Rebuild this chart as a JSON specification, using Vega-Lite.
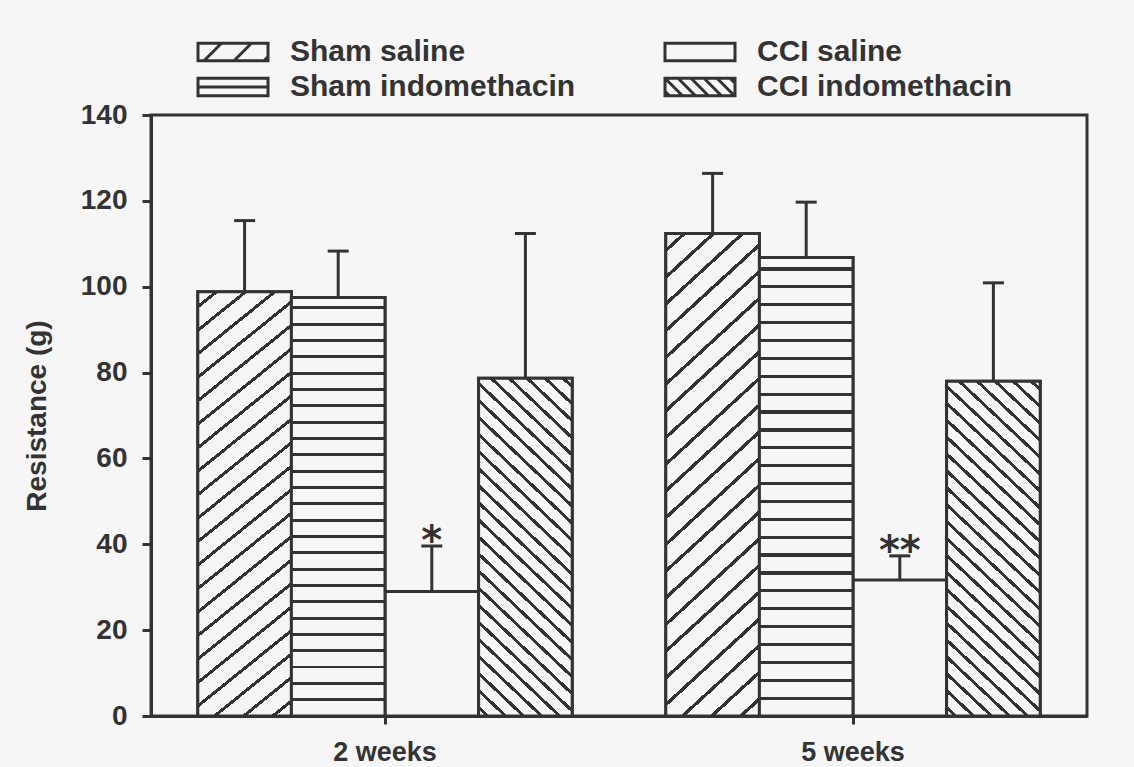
{
  "$schema": "https://vega.github.io/schema/vega-lite/v6.json",
  "width": 936,
  "height": 601,
  "autosize": {"type": "none"},
  "padding": {"left": 151, "top": 115, "right": 47, "bottom": 51},
  "background": "#f6f6f6",
  "config": {
    "view": {"stroke": "#333333", "strokeWidth": 3, "fill": "#f6f6f6"},
    "axis": {
      "domainColor": "#333333", "domainWidth": 3, "tickColor": "#333333", "tickWidth": 3,
      "grid": false, "labelColor": "#333333", "titleColor": "#333333",
      "labelFont": "Liberation Sans", "titleFont": "Liberation Sans",
      "labelFontWeight": "bold", "titleFontWeight": "bold"
    }
  },
  "data": {
    "values": [
      {"week": "2 weeks", "group": "Sham saline", "mean": 98.8, "upper": 115.4, "sig": ""},
      {"week": "2 weeks", "group": "Sham indomethacin", "mean": 97.5, "upper": 108.3, "sig": ""},
      {"week": "2 weeks", "group": "CCI saline", "mean": 29.0, "upper": 39.6, "sig": "*"},
      {"week": "2 weeks", "group": "CCI indomethacin", "mean": 78.7, "upper": 112.4, "sig": ""},
      {"week": "5 weeks", "group": "Sham saline", "mean": 112.4, "upper": 126.4, "sig": ""},
      {"week": "5 weeks", "group": "Sham indomethacin", "mean": 106.8, "upper": 119.7, "sig": ""},
      {"week": "5 weeks", "group": "CCI saline", "mean": 31.7, "upper": 37.3, "sig": "**"},
      {"week": "5 weeks", "group": "CCI indomethacin", "mean": 78.0, "upper": 100.9, "sig": ""}
    ]
  },
  "encoding": {
    "x": {
      "field": "week", "type": "nominal",
      "scale": {"paddingInner": 0.2, "paddingOuter": 0.1},
      "axis": {"title": null, "labelAngle": 0, "tickSize": 8, "labelPadding": 15, "labelFontSize": 27}
    },
    "xOffset": {
      "field": "group", "type": "nominal",
      "scale": {"domain": ["Sham saline", "Sham indomethacin", "CCI saline", "CCI indomethacin"], "paddingInner": 0, "paddingOuter": 0}
    },
    "y": {
      "field": "mean", "type": "quantitative",
      "scale": {"domain": [0, 140], "nice": false},
      "axis": {"title": "Resistance (g)", "values": [0, 20, 40, 60, 80, 100, 120, 140], "tickSize": 9, "labelPadding": 15, "labelFontSize": 28, "titleFontSize": 28, "titlePadding": 29}
    }
  },
  "layer": [
    {
      "mark": {"type": "point", "filled": false, "color": "#333333", "strokeWidth": 3, "size": 400, "opacity": 1, "yOffset": 40},
      "encoding": {
        "shape": {
          "field": "group", "type": "nominal",
          "scale": {
            "domain": ["Sham saline", "Sham indomethacin", "CCI saline", "CCI indomethacin"],
            "range": [
              "M-3.5,-0.875H3.5V0.875H-3.5Z M-2.9,0.875L-1.15,-0.875 M0.1,0.875L1.85,-0.875 M3.1,0.875L3.5,0.475",
              "M-3.5,-0.875H3.5V0.875H-3.5Z M-3.5,0H3.5",
              "M-3.5,-0.875H3.5V0.875H-3.5Z",
              "M-3.5,-0.875H3.5V0.875H-3.5Z M-3.5,-0.875L-1.75,0.875 M-2.2,-0.875L-0.45,0.875 M-0.9,-0.875L0.85,0.875 M0.4,-0.875L2.15,0.875 M1.7,-0.875L3.45,0.875 M3,-0.875L3.5,-0.375 M-3.5,0.425L-3.05,0.875"
            ]
          },
          "legend": {
            "title": null, "orient": "none", "legendX": 47, "legendY": -78, "columns": 2,
            "padding": 0, "columnPadding": 83, "rowPadding": 5,
            "symbolSize": 400, "symbolOffset": 20,
            "symbolStrokeColor": "#333333", "symbolStrokeWidth": 3, "symbolFillColor": "transparent",
            "labelFont": "Liberation Sans", "labelFontWeight": "bold", "labelFontSize": 30,
            "labelColor": "#333333", "labelOffset": 42, "labelLimit": 0
          }
        }
      }
    },
    {
      "mark": {"type": "bar", "stroke": "#333333", "strokeWidth": 3, "fill": "#f6f6f6"}
    },
    {
      "transform": [{"filter": "datum.group === 'Sham saline'"}],
      "mark": {"type": "bar", "stroke": "#333333", "strokeWidth": 3,
        "fill": {"gradient": "linear", "x1": 0, "y1": 0, "x2": 0.2032, "y2": 1.1418, "stops": [
          {"offset": 0.026, "color": "#f6f6f6"}, {"offset": 0.026, "color": "#333333"}, {"offset": 0.034, "color": "#333333"}, {"offset": 0.034, "color": "#f6f6f6"},
          {"offset": 0.073, "color": "#f6f6f6"}, {"offset": 0.073, "color": "#333333"}, {"offset": 0.081, "color": "#333333"}, {"offset": 0.081, "color": "#f6f6f6"},
          {"offset": 0.120, "color": "#f6f6f6"}, {"offset": 0.120, "color": "#333333"}, {"offset": 0.128, "color": "#333333"}, {"offset": 0.128, "color": "#f6f6f6"},
          {"offset": 0.167, "color": "#f6f6f6"}, {"offset": 0.167, "color": "#333333"}, {"offset": 0.175, "color": "#333333"}, {"offset": 0.175, "color": "#f6f6f6"},
          {"offset": 0.214, "color": "#f6f6f6"}, {"offset": 0.214, "color": "#333333"}, {"offset": 0.222, "color": "#333333"}, {"offset": 0.222, "color": "#f6f6f6"},
          {"offset": 0.261, "color": "#f6f6f6"}, {"offset": 0.261, "color": "#333333"}, {"offset": 0.269, "color": "#333333"}, {"offset": 0.269, "color": "#f6f6f6"},
          {"offset": 0.308, "color": "#f6f6f6"}, {"offset": 0.308, "color": "#333333"}, {"offset": 0.316, "color": "#333333"}, {"offset": 0.316, "color": "#f6f6f6"},
          {"offset": 0.355, "color": "#f6f6f6"}, {"offset": 0.355, "color": "#333333"}, {"offset": 0.363, "color": "#333333"}, {"offset": 0.363, "color": "#f6f6f6"},
          {"offset": 0.402, "color": "#f6f6f6"}, {"offset": 0.402, "color": "#333333"}, {"offset": 0.410, "color": "#333333"}, {"offset": 0.410, "color": "#f6f6f6"},
          {"offset": 0.449, "color": "#f6f6f6"}, {"offset": 0.449, "color": "#333333"}, {"offset": 0.457, "color": "#333333"}, {"offset": 0.457, "color": "#f6f6f6"},
          {"offset": 0.496, "color": "#f6f6f6"}, {"offset": 0.496, "color": "#333333"}, {"offset": 0.504, "color": "#333333"}, {"offset": 0.504, "color": "#f6f6f6"},
          {"offset": 0.543, "color": "#f6f6f6"}, {"offset": 0.543, "color": "#333333"}, {"offset": 0.551, "color": "#333333"}, {"offset": 0.551, "color": "#f6f6f6"},
          {"offset": 0.590, "color": "#f6f6f6"}, {"offset": 0.590, "color": "#333333"}, {"offset": 0.598, "color": "#333333"}, {"offset": 0.598, "color": "#f6f6f6"},
          {"offset": 0.637, "color": "#f6f6f6"}, {"offset": 0.637, "color": "#333333"}, {"offset": 0.645, "color": "#333333"}, {"offset": 0.645, "color": "#f6f6f6"},
          {"offset": 0.684, "color": "#f6f6f6"}, {"offset": 0.684, "color": "#333333"}, {"offset": 0.692, "color": "#333333"}, {"offset": 0.692, "color": "#f6f6f6"},
          {"offset": 0.731, "color": "#f6f6f6"}, {"offset": 0.731, "color": "#333333"}, {"offset": 0.739, "color": "#333333"}, {"offset": 0.739, "color": "#f6f6f6"},
          {"offset": 0.778, "color": "#f6f6f6"}, {"offset": 0.778, "color": "#333333"}, {"offset": 0.786, "color": "#333333"}, {"offset": 0.786, "color": "#f6f6f6"},
          {"offset": 0.825, "color": "#f6f6f6"}, {"offset": 0.825, "color": "#333333"}, {"offset": 0.833, "color": "#333333"}, {"offset": 0.833, "color": "#f6f6f6"},
          {"offset": 0.872, "color": "#f6f6f6"}, {"offset": 0.872, "color": "#333333"}, {"offset": 0.880, "color": "#333333"}, {"offset": 0.880, "color": "#f6f6f6"},
          {"offset": 0.919, "color": "#f6f6f6"}, {"offset": 0.919, "color": "#333333"}, {"offset": 0.927, "color": "#333333"}, {"offset": 0.927, "color": "#f6f6f6"},
          {"offset": 0.966, "color": "#f6f6f6"}, {"offset": 0.966, "color": "#333333"}, {"offset": 0.974, "color": "#333333"}, {"offset": 0.974, "color": "#f6f6f6"}
        ]}
      }
    },
    {
      "transform": [{"filter": "datum.group === 'Sham indomethacin'"}],
      "mark": {"type": "bar", "stroke": "#333333", "strokeWidth": 3,
        "fill": {"gradient": "linear", "x1": 0, "y1": 1, "x2": 0, "y2": 0, "stops": [
          {"offset": 0.0355, "color": "#f6f6f6"}, {"offset": 0.0355, "color": "#333333"}, {"offset": 0.0425, "color": "#333333"}, {"offset": 0.0425, "color": "#f6f6f6"},
          {"offset": 0.0745, "color": "#f6f6f6"}, {"offset": 0.0745, "color": "#333333"}, {"offset": 0.0815, "color": "#333333"}, {"offset": 0.0815, "color": "#f6f6f6"},
          {"offset": 0.1135, "color": "#f6f6f6"}, {"offset": 0.1135, "color": "#333333"}, {"offset": 0.1205, "color": "#333333"}, {"offset": 0.1205, "color": "#f6f6f6"},
          {"offset": 0.1525, "color": "#f6f6f6"}, {"offset": 0.1525, "color": "#333333"}, {"offset": 0.1595, "color": "#333333"}, {"offset": 0.1595, "color": "#f6f6f6"},
          {"offset": 0.1915, "color": "#f6f6f6"}, {"offset": 0.1915, "color": "#333333"}, {"offset": 0.1985, "color": "#333333"}, {"offset": 0.1985, "color": "#f6f6f6"},
          {"offset": 0.2305, "color": "#f6f6f6"}, {"offset": 0.2305, "color": "#333333"}, {"offset": 0.2375, "color": "#333333"}, {"offset": 0.2375, "color": "#f6f6f6"},
          {"offset": 0.2695, "color": "#f6f6f6"}, {"offset": 0.2695, "color": "#333333"}, {"offset": 0.2765, "color": "#333333"}, {"offset": 0.2765, "color": "#f6f6f6"},
          {"offset": 0.3085, "color": "#f6f6f6"}, {"offset": 0.3085, "color": "#333333"}, {"offset": 0.3155, "color": "#333333"}, {"offset": 0.3155, "color": "#f6f6f6"},
          {"offset": 0.3475, "color": "#f6f6f6"}, {"offset": 0.3475, "color": "#333333"}, {"offset": 0.3545, "color": "#333333"}, {"offset": 0.3545, "color": "#f6f6f6"},
          {"offset": 0.3865, "color": "#f6f6f6"}, {"offset": 0.3865, "color": "#333333"}, {"offset": 0.3935, "color": "#333333"}, {"offset": 0.3935, "color": "#f6f6f6"},
          {"offset": 0.4255, "color": "#f6f6f6"}, {"offset": 0.4255, "color": "#333333"}, {"offset": 0.4325, "color": "#333333"}, {"offset": 0.4325, "color": "#f6f6f6"},
          {"offset": 0.4645, "color": "#f6f6f6"}, {"offset": 0.4645, "color": "#333333"}, {"offset": 0.4715, "color": "#333333"}, {"offset": 0.4715, "color": "#f6f6f6"},
          {"offset": 0.5035, "color": "#f6f6f6"}, {"offset": 0.5035, "color": "#333333"}, {"offset": 0.5105, "color": "#333333"}, {"offset": 0.5105, "color": "#f6f6f6"},
          {"offset": 0.5425, "color": "#f6f6f6"}, {"offset": 0.5425, "color": "#333333"}, {"offset": 0.5495, "color": "#333333"}, {"offset": 0.5495, "color": "#f6f6f6"},
          {"offset": 0.5815, "color": "#f6f6f6"}, {"offset": 0.5815, "color": "#333333"}, {"offset": 0.5885, "color": "#333333"}, {"offset": 0.5885, "color": "#f6f6f6"},
          {"offset": 0.6205, "color": "#f6f6f6"}, {"offset": 0.6205, "color": "#333333"}, {"offset": 0.6275, "color": "#333333"}, {"offset": 0.6275, "color": "#f6f6f6"},
          {"offset": 0.6595, "color": "#f6f6f6"}, {"offset": 0.6595, "color": "#333333"}, {"offset": 0.6665, "color": "#333333"}, {"offset": 0.6665, "color": "#f6f6f6"},
          {"offset": 0.6985, "color": "#f6f6f6"}, {"offset": 0.6985, "color": "#333333"}, {"offset": 0.7055, "color": "#333333"}, {"offset": 0.7055, "color": "#f6f6f6"},
          {"offset": 0.7375, "color": "#f6f6f6"}, {"offset": 0.7375, "color": "#333333"}, {"offset": 0.7445, "color": "#333333"}, {"offset": 0.7445, "color": "#f6f6f6"},
          {"offset": 0.7765, "color": "#f6f6f6"}, {"offset": 0.7765, "color": "#333333"}, {"offset": 0.7835, "color": "#333333"}, {"offset": 0.7835, "color": "#f6f6f6"},
          {"offset": 0.8155, "color": "#f6f6f6"}, {"offset": 0.8155, "color": "#333333"}, {"offset": 0.8225, "color": "#333333"}, {"offset": 0.8225, "color": "#f6f6f6"},
          {"offset": 0.8545, "color": "#f6f6f6"}, {"offset": 0.8545, "color": "#333333"}, {"offset": 0.8615, "color": "#333333"}, {"offset": 0.8615, "color": "#f6f6f6"},
          {"offset": 0.8935, "color": "#f6f6f6"}, {"offset": 0.8935, "color": "#333333"}, {"offset": 0.9005, "color": "#333333"}, {"offset": 0.9005, "color": "#f6f6f6"},
          {"offset": 0.9325, "color": "#f6f6f6"}, {"offset": 0.9325, "color": "#333333"}, {"offset": 0.9395, "color": "#333333"}, {"offset": 0.9395, "color": "#f6f6f6"},
          {"offset": 0.9715, "color": "#f6f6f6"}, {"offset": 0.9715, "color": "#333333"}, {"offset": 0.9785, "color": "#333333"}, {"offset": 0.9785, "color": "#f6f6f6"}
        ]}
      }
    },
    {
      "transform": [{"filter": "datum.group === 'CCI indomethacin'"}],
      "mark": {"type": "bar", "stroke": "#333333", "strokeWidth": 3,
        "fill": {"gradient": "linear", "x1": 0, "y1": 1, "x2": 0.3101, "y2": -0.181, "stops": [
          {"offset": 0.015, "color": "#f6f6f6"}, {"offset": 0.015, "color": "#333333"}, {"offset": 0.025, "color": "#333333"}, {"offset": 0.025, "color": "#f6f6f6"},
          {"offset": 0.055, "color": "#f6f6f6"}, {"offset": 0.055, "color": "#333333"}, {"offset": 0.065, "color": "#333333"}, {"offset": 0.065, "color": "#f6f6f6"},
          {"offset": 0.095, "color": "#f6f6f6"}, {"offset": 0.095, "color": "#333333"}, {"offset": 0.105, "color": "#333333"}, {"offset": 0.105, "color": "#f6f6f6"},
          {"offset": 0.135, "color": "#f6f6f6"}, {"offset": 0.135, "color": "#333333"}, {"offset": 0.145, "color": "#333333"}, {"offset": 0.145, "color": "#f6f6f6"},
          {"offset": 0.175, "color": "#f6f6f6"}, {"offset": 0.175, "color": "#333333"}, {"offset": 0.185, "color": "#333333"}, {"offset": 0.185, "color": "#f6f6f6"},
          {"offset": 0.215, "color": "#f6f6f6"}, {"offset": 0.215, "color": "#333333"}, {"offset": 0.225, "color": "#333333"}, {"offset": 0.225, "color": "#f6f6f6"},
          {"offset": 0.255, "color": "#f6f6f6"}, {"offset": 0.255, "color": "#333333"}, {"offset": 0.265, "color": "#333333"}, {"offset": 0.265, "color": "#f6f6f6"},
          {"offset": 0.295, "color": "#f6f6f6"}, {"offset": 0.295, "color": "#333333"}, {"offset": 0.305, "color": "#333333"}, {"offset": 0.305, "color": "#f6f6f6"},
          {"offset": 0.335, "color": "#f6f6f6"}, {"offset": 0.335, "color": "#333333"}, {"offset": 0.345, "color": "#333333"}, {"offset": 0.345, "color": "#f6f6f6"},
          {"offset": 0.375, "color": "#f6f6f6"}, {"offset": 0.375, "color": "#333333"}, {"offset": 0.385, "color": "#333333"}, {"offset": 0.385, "color": "#f6f6f6"},
          {"offset": 0.415, "color": "#f6f6f6"}, {"offset": 0.415, "color": "#333333"}, {"offset": 0.425, "color": "#333333"}, {"offset": 0.425, "color": "#f6f6f6"},
          {"offset": 0.455, "color": "#f6f6f6"}, {"offset": 0.455, "color": "#333333"}, {"offset": 0.465, "color": "#333333"}, {"offset": 0.465, "color": "#f6f6f6"},
          {"offset": 0.495, "color": "#f6f6f6"}, {"offset": 0.495, "color": "#333333"}, {"offset": 0.505, "color": "#333333"}, {"offset": 0.505, "color": "#f6f6f6"},
          {"offset": 0.535, "color": "#f6f6f6"}, {"offset": 0.535, "color": "#333333"}, {"offset": 0.545, "color": "#333333"}, {"offset": 0.545, "color": "#f6f6f6"},
          {"offset": 0.575, "color": "#f6f6f6"}, {"offset": 0.575, "color": "#333333"}, {"offset": 0.585, "color": "#333333"}, {"offset": 0.585, "color": "#f6f6f6"},
          {"offset": 0.615, "color": "#f6f6f6"}, {"offset": 0.615, "color": "#333333"}, {"offset": 0.625, "color": "#333333"}, {"offset": 0.625, "color": "#f6f6f6"},
          {"offset": 0.655, "color": "#f6f6f6"}, {"offset": 0.655, "color": "#333333"}, {"offset": 0.665, "color": "#333333"}, {"offset": 0.665, "color": "#f6f6f6"},
          {"offset": 0.695, "color": "#f6f6f6"}, {"offset": 0.695, "color": "#333333"}, {"offset": 0.705, "color": "#333333"}, {"offset": 0.705, "color": "#f6f6f6"},
          {"offset": 0.735, "color": "#f6f6f6"}, {"offset": 0.735, "color": "#333333"}, {"offset": 0.745, "color": "#333333"}, {"offset": 0.745, "color": "#f6f6f6"},
          {"offset": 0.775, "color": "#f6f6f6"}, {"offset": 0.775, "color": "#333333"}, {"offset": 0.785, "color": "#333333"}, {"offset": 0.785, "color": "#f6f6f6"},
          {"offset": 0.815, "color": "#f6f6f6"}, {"offset": 0.815, "color": "#333333"}, {"offset": 0.825, "color": "#333333"}, {"offset": 0.825, "color": "#f6f6f6"},
          {"offset": 0.855, "color": "#f6f6f6"}, {"offset": 0.855, "color": "#333333"}, {"offset": 0.865, "color": "#333333"}, {"offset": 0.865, "color": "#f6f6f6"},
          {"offset": 0.895, "color": "#f6f6f6"}, {"offset": 0.895, "color": "#333333"}, {"offset": 0.905, "color": "#333333"}, {"offset": 0.905, "color": "#f6f6f6"},
          {"offset": 0.935, "color": "#f6f6f6"}, {"offset": 0.935, "color": "#333333"}, {"offset": 0.945, "color": "#333333"}, {"offset": 0.945, "color": "#f6f6f6"},
          {"offset": 0.975, "color": "#f6f6f6"}, {"offset": 0.975, "color": "#333333"}, {"offset": 0.985, "color": "#333333"}, {"offset": 0.985, "color": "#f6f6f6"}
        ]}
      }
    },
    {
      "mark": {"type": "rule", "color": "#333333", "strokeWidth": 3},
      "encoding": {
        "y2": {"field": "upper"}
      }
    },
    {
      "mark": {"type": "tick", "color": "#333333", "size": 21, "thickness": 3, "opacity": 1},
      "encoding": {
        "y": {"field": "upper", "type": "quantitative"}
      }
    },
    {
      "mark": {"type": "text", "font": "DejaVu Sans", "fontWeight": "bold", "fontSize": 40, "color": "#333333", "baseline": "alphabetic", "dy": 8},
      "encoding": {
        "y": {"field": "upper", "type": "quantitative"},
        "text": {"field": "sig"}
      }
    }
  ]
}
